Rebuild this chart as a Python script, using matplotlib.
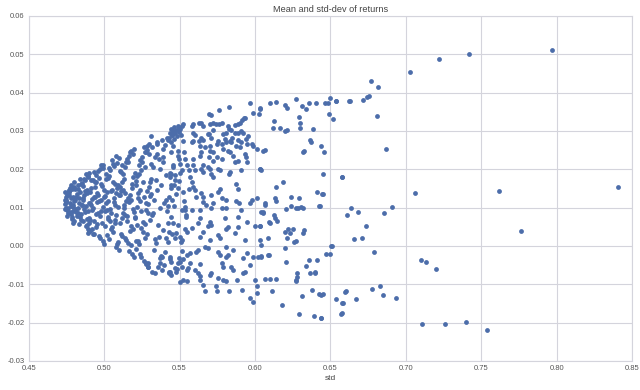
import matplotlib
matplotlib.use("Agg")
import matplotlib.pyplot as plt
import numpy as np

plt.rcParams['font.family'] = ['Liberation Sans', 'DejaVu Sans']

title = "Mean and std-dev of returns"
xlabel = "std"
xticks = [0.45, 0.50, 0.55, 0.60, 0.65, 0.70, 0.75, 0.80, 0.85]
yticks = [-0.03, -0.02, -0.01, 0.00, 0.01, 0.02, 0.03, 0.04, 0.05, 0.06]

# (std, mean) pairs
left_edge = [
    (0.4771,0.0112),(0.4744,0.0098),(0.4790,0.0127),(0.4762,0.0085),(0.4739,0.0140),(0.4783,0.0105),
    (0.4748,0.0119),(0.4795,0.0091),(0.4766,0.0133),(0.4787,0.0148),(0.4752,0.0079),(0.4737,0.0110),
    (0.4779,0.0124),(0.4742,0.0097),(0.4798,0.0155),(0.4758,0.0137),(0.4785,0.0071),(0.4750,0.0116),
    (0.4774,0.0088),(0.4769,0.0146),(0.4792,0.0102),(0.4745,0.0129),(0.4781,0.0160),(0.4799,0.0066),
    (0.4756,0.0094),(0.4740,0.0121),(0.4764,0.0140),(0.4777,0.0083),(0.4794,0.0108),(0.4797,0.0167),
    (0.4753,0.0132),(0.4789,0.0075),(0.4776,0.0152),(0.4760,0.0100),(0.4746,0.0117),(0.4793,0.0061),
    (0.4768,0.0143),
    (0.4857,0.0126),(0.4812,0.0089),(0.4873,0.0171),(0.4831,0.0058),(0.4896,0.0113),(0.4805,0.0149),
    (0.4868,0.0097),(0.4821,0.0135),(0.4884,0.0070),(0.4890,0.0182),(0.4808,0.0120),(0.4849,0.0083),
    (0.4826,0.0158),(0.4878,0.0105),(0.4842,0.0141),(0.4861,0.0064),(0.4838,0.0174),(0.4893,0.0092),
    (0.4815,0.0128),(0.4834,0.0111),(0.4876,0.0053),(0.4853,0.0165),(0.4818,0.0079),(0.4887,0.0145),
    (0.4881,0.0187),(0.4829,0.0100),(0.4866,0.0134),(0.4845,0.0067),(0.4803,0.0118),(0.4859,0.0156),
    (0.4892,0.0044),(0.4871,0.0088),(0.4864,0.0176),(0.4836,0.0125),(0.4899,0.0060),(0.4823,0.0148),
    (0.4855,0.0107),(0.4897,0.0191),(0.4840,0.0075),(0.4883,0.0138),(0.4898,0.0040),(0.4847,0.0163),
    (0.4811,0.0096),(0.4862,0.0119),(0.4888,0.0055),(0.4894,0.0181),(0.4827,0.0085),(0.4870,0.0143),
    (0.4895,0.0035),(0.4851,0.0106),
]

left_mid = [
    (0.4934,0.0128),(0.4961,0.0196),(0.4909,0.0068),(0.4987,0.0157),(0.4928,0.0031),(0.4952,0.0114),
    (0.4915,0.0173),(0.4978,0.0090),(0.4903,0.0140),(0.4943,0.0049),(0.4995,0.0203),(0.4922,0.0122),
    (0.4969,0.0077),(0.4939,0.0166),(0.4991,0.0101),(0.4973,0.0022),(0.4911,0.0150),(0.4948,0.0185),
    (0.4984,0.0061),(0.4957,0.0132),(0.4919,0.0093),(0.4980,0.0210),(0.4906,0.0039),(0.4965,0.0117),
    (0.4926,0.0171),(0.4945,0.0083),(0.4998,0.0146),(0.4989,0.0014),(0.4931,0.0194),(0.4913,0.0108),
    (0.4955,0.0057),(0.4976,0.0161),(0.4937,0.0129),(0.4963,0.0026),(0.4993,0.0212),(0.4901,0.0072),
    (0.4950,0.0137),(0.4924,0.0098),(0.4967,0.0178),(0.4917,0.0045),(0.4982,0.0120),(0.4996,0.0006),
    (0.4941,0.0153),(0.4959,0.0087),(0.4972,0.0201),(0.4930,0.0064),(0.4907,0.0111),(0.4946,0.0168),
    (0.4935,0.0032),
    (0.5047,0.0143),(0.5016,0.0095),(0.5083,0.0217),(0.5005,0.0051),(0.5062,0.0125),(0.5031,0.0183),
    (0.5091,0.0010),(0.5024,0.0076),(0.5074,0.0161),(0.5009,0.0112),(0.5056,0.0036),(0.5040,0.0199),
    (0.5097,0.0134),(0.5069,0.0068),(0.5052,0.0224),(0.5003,0.0090),(0.5087,0.0152),(0.5078,-0.0003),
    (0.5028,0.0118),(0.5013,0.0175),(0.5044,0.0044),(0.5093,0.0103),(0.5066,0.0209),(0.5020,0.0140),
    (0.5035,0.0018),(0.5080,0.0081),(0.5058,0.0166),(0.5001,0.0127),(0.5072,0.0059),(0.5098,0.0230),
    (0.5038,0.0097),(0.5011,0.0188),(0.5085,0.0004),(0.5049,0.0146),(0.5027,0.0070),(0.5064,0.0115),
    (0.5033,0.0203),(0.5018,0.0028),(0.5089,0.0158),(0.5043,0.0086),(0.5076,0.0235),(0.5007,0.0131),
    (0.5095,-0.0010),(0.5054,0.0050),(0.5022,0.0177),(0.5070,0.0108),(0.5060,0.0214),(0.5036,0.0064),
    (0.5081,0.0139),
]

left_right = [
    (0.5138,0.0021),(0.5112,0.0192),(0.5181,0.0121),(0.5153,0.0079),(0.5194,0.0241),(0.5104,0.0155),
    (0.5167,-0.0012),(0.5129,0.0100),(0.5188,0.0044),(0.5146,0.0220),(0.5119,0.0168),(0.5172,0.0132),
    (0.5102,0.0061),(0.5159,0.0008),(0.5135,0.0205),(0.5197,0.0089),(0.5126,0.0147),(0.5177,0.0248),
    (0.5109,0.0030),(0.5163,0.0114),(0.5191,0.0181),(0.5184,-0.0021),(0.5117,0.0072),(0.5150,0.0227),
    (0.5141,0.0139),(0.5175,0.0053),(0.5107,0.0196),(0.5132,0.0106),(0.5144,0.0015),(0.5186,0.0161),
    (0.5199,0.0252),(0.5123,0.0085),(0.5157,0.0124),(0.5195,-0.0030),(0.5115,0.0211),(0.5170,0.0039),
    (0.5134,0.0174),(0.5190,0.0096),(0.5111,0.0143),(0.5148,0.0066),(0.5165,0.0236),(0.5179,0.0003),
    (0.5127,0.0187),(0.5142,0.0117),(0.5183,0.0152),(0.5120,0.0025),(0.5161,0.0218),(0.5136,0.0081),
    (0.5174,0.0246),(0.5106,0.0134),
    (0.5247,-0.0028),(0.5208,0.0170),(0.5271,0.0058),(0.5235,0.0224),(0.5289,0.0110),(0.5262,0.0257),
    (0.5214,0.0014),(0.5281,0.0143),(0.5243,0.0198),(0.5203,0.0075),(0.5266,-0.0040),(0.5227,0.0125),
    (0.5295,0.0240),(0.5255,0.0036),(0.5219,0.0182),(0.5276,0.0093),(0.5232,0.0212),(0.5298,0.0154),
    (0.5211,-0.0008),(0.5259,0.0063),(0.5284,0.0262),(0.5238,0.0118),(0.5268,0.0021),(0.5205,0.0190),
    (0.5292,0.0086),(0.5250,0.0231),(0.5279,-0.0046),(0.5224,0.0137),(0.5241,0.0047),(0.5273,0.0205),
    (0.5216,0.0101),(0.5257,0.0166),(0.5230,0.0004),(0.5287,0.0250),(0.5201,0.0072),(0.5264,0.0129),
    (0.5236,-0.0022),(0.5253,0.0218),(0.5209,0.0160),(0.5283,0.0030),(0.5245,0.0092),(0.5269,0.0244),
    (0.5293,-0.0045),(0.5228,0.0188),(0.5274,0.0112),(0.5218,0.0055),(0.5299,0.0266),(0.5240,0.0146),
    (0.5290,-0.0054),(0.5222,0.0013),
]

center = [
    (0.5371,0.0200),(0.5318,0.0080),(0.5433,0.0127),(0.5352,0.0239),(0.5402,-0.0015),(0.5306,0.0166),
    (0.5389,0.0041),(0.5347,0.0270),(0.5424,0.0104),(0.5313,0.0213),(0.5381,-0.0062),(0.5446,0.0150),
    (0.5335,0.0018),(0.5410,0.0185),(0.5301,0.0067),(0.5392,0.0252),(0.5327,0.0119),(0.5439,-0.0035),
    (0.5363,0.0226),(0.5417,0.0090),(0.5342,0.0172),(0.5448,0.0030),(0.5385,0.0277),(0.5309,0.0136),
    (0.5428,-0.0068),(0.5357,0.0054),(0.5321,0.0205),(0.5398,0.0112),(0.5441,0.0245),(0.5330,-0.0010),
    (0.5376,0.0158),(0.5444,0.0076),(0.5415,0.0283),(0.5361,0.0024),(0.5437,0.0191),(0.5304,0.0130),
    (0.5395,-0.0050),(0.5339,0.0233),(0.5367,0.0098),(0.5421,0.0061),(0.5311,0.0176),(0.5406,0.0264),
    (0.5378,-0.0025),(0.5350,0.0145),(0.5430,0.0037),(0.5387,0.0218),(0.5324,0.0087),(0.5449,0.0290),
    (0.5413,0.0121),(0.5345,0.0008),
    (0.5498,0.0170),(0.5461,0.0105),(0.5533,0.0045),(0.5479,0.0135),(0.5516,-0.0012),(0.5454,0.0212),
    (0.5541,0.0080),(0.5488,0.0152),(0.5469,0.0022),(0.5526,0.0118),(0.5503,0.0190),(0.5457,0.0060),
    (0.5537,0.0095),(0.5484,-0.0060),(0.5520,0.0140),(0.5475,0.0035),(0.5494,0.0228),(0.5543,0.0075),
    (0.5466,0.0160),(0.5510,0.0010),(0.5452,0.0120),(0.5529,0.0245),(0.5491,0.0055),(0.5522,-0.0035),
    (0.5472,0.0185),
    (0.5430,0.0283),(0.5438,0.0296),(0.5445,0.0305),(0.5450,0.0289),(0.5455,0.0300),(0.5460,0.0280),
    (0.5465,0.0310),(0.5470,0.0294),(0.5476,0.0302),(0.5482,0.0286),(0.5488,0.0313),(0.5494,0.0298),
    (0.5500,0.0306),(0.5507,0.0290),(0.5440,0.0272),(0.5425,0.0276),
    (0.531,0.0288),(0.535,0.0267),(0.532,0.0257),(0.528,0.0244),(0.539,0.0231),
]

middle_upper = [
    (0.5966,0.0374),(0.576,0.0355),(0.583,0.0363),(0.6036,0.0359),(0.6027,0.0344),(0.5987,0.0348),
    (0.5696,0.0344),(0.5707,0.0342),(0.5917,0.0328),(0.5937,0.0333),(0.590,0.0322),(0.5866,0.0316),
    (0.5822,0.0313),(0.5784,0.032),(0.5762,0.0319),(0.574,0.0318),(0.5722,0.032),(0.570,0.0319),
    (0.5645,0.032),(0.5652,0.0312),(0.5579,0.0313),(0.5589,0.0318),(0.5523,0.0318),(0.5513,0.0312),
    (0.5497,0.0309),(0.5722,0.0302),(0.5788,0.0292),(0.5811,0.0296),(0.5844,0.0302),(0.5888,0.0296),
    (0.591,0.030),(0.5921,0.0294),(0.5954,0.0288),(0.5977,0.0266),(0.5939,0.028),(0.5696,0.0292),
    (0.5711,0.0283),(0.559,0.0294),(0.560,0.029),(0.5645,0.0283),(0.5755,0.0275),(0.580,0.0279),
    (0.5833,0.0275),(0.5844,0.027),(0.591,0.027),(0.5877,0.0262),(0.5745,0.0266),(0.5778,0.0266),
    (0.570,0.0262),(0.5634,0.0262),(0.5667,0.0257),(0.5579,0.027),(0.559,0.0275),(0.5523,0.0275),
    (0.5457,0.0262),(0.549,0.0249),(0.5645,0.0244),(0.570,0.0249),(0.5722,0.0244),(0.5822,0.0249),
    (0.5833,0.0244),(0.5788,0.0253),(0.590,0.0257),(0.5944,0.0266),(0.601,0.0253),(0.6054,0.0249),
    (0.5932,0.024),(0.5888,0.0223),(0.5855,0.0236),(0.5784,0.0227),(0.5745,0.0231),(0.5696,0.0231),
    (0.5634,0.0236),(0.559,0.0227),(0.5534,0.0227),(0.549,0.0236),(0.5944,0.0218),(0.6032,0.0201),
    (0.6043,0.0197),(0.5833,0.0193),(0.591,0.0197),(0.5755,0.0201),(0.5767,0.0197),(0.570,0.0201),
    (0.5711,0.0188),(0.5645,0.0201),(0.5656,0.0193),(0.559,0.021),(0.560,0.0199),(0.5546,0.021),
    (0.5563,0.0197),(0.5501,0.0214),(0.5513,0.0197),(0.5457,0.0205),(0.5446,0.0188),
    (0.5627,0.0273),(0.5654,0.0277),(0.569,0.0293),(0.5846,0.0281),(0.5886,0.0277),(0.5806,0.027),
    (0.594,0.0231),(0.5866,0.0218),(0.572,0.0223),(0.5687,0.0205),(0.583,0.0189),(0.5654,0.021),
    (0.599,0.0262),(0.593,0.0334),(0.589,0.0318),(0.587,0.0296),(0.583,0.0305),(0.563,0.0322),
]

middle_mid = [
    (0.5435,0.018),(0.5468,0.0171),(0.5446,0.0158),(0.5568,0.018),(0.5579,0.0167),(0.559,0.0154),
    (0.5563,0.0149),(0.560,0.0145),(0.5722,0.018),(0.5767,0.0149),(0.5755,0.0142),(0.5877,0.0162),
    (0.5888,0.0149),(0.5645,0.0137),(0.5612,0.0128),(0.5656,0.0128),(0.5711,0.0134),(0.5778,0.0124),
    (0.5811,0.0119),(0.5877,0.0117),(0.5895,0.0111),(0.5977,0.0119),(0.601,0.0124),(0.5966,0.0111),
    (0.5656,0.0115),(0.5678,0.0108),(0.5722,0.0111),(0.5778,0.010),(0.5811,0.010),(0.5711,0.010),
    (0.591,0.0093),(0.6065,0.0111),(0.6043,0.0089),(0.5634,0.0093),(0.5579,0.0093),(0.5534,0.0102),
    (0.5513,0.0093),(0.5634,0.0073),(0.580,0.0072),(0.5888,0.0076),(0.570,0.0063),(0.5711,0.0054),
    (0.5689,0.0053),(0.5623,0.0059),(0.5944,0.0063),(0.5999,0.0053),(0.6032,0.0053),(0.5822,0.005),
    (0.5811,0.0044),(0.5888,0.005),(0.5866,0.0033),(0.5579,0.0046),(0.5546,0.0037),(0.5656,0.0037),
    (0.5634,0.0024),(0.5755,0.0028),(0.5767,0.002),(0.5501,0.0024),(0.5513,0.0016),(0.570,0.0016),
    (0.5932,0.0016),(0.6032,0.0016),(0.5413,0.002),(0.5424,0.0011),
]

middle_low = [
    (0.528,-0.0045),(0.5291,-0.0054),(0.5314,-0.0067),(0.5336,-0.0071),(0.5357,-0.0054),(0.5369,-0.0045),
    (0.538,-0.0028),(0.5369,-0.0032),(0.5435,-0.0028),(0.5446,-0.0041),(0.5435,-0.0067),(0.5446,-0.0075),
    (0.543,-0.0071),(0.5468,-0.0058),(0.5479,-0.0067),(0.5497,-0.0032),(0.5501,-0.0041),(0.549,-0.0045),
    (0.5501,-0.0095),(0.5523,-0.0088),(0.555,-0.0092),(0.5513,-0.0054),(0.5546,-0.0062),(0.5556,-0.0058),
    (0.5568,-0.0019),(0.555,-0.0023),(0.5568,-0.0045),(0.560,-0.0062),(0.5623,-0.0071),(0.5634,-0.0078),
    (0.5612,-0.0015),(0.5623,-0.001),(0.5634,-0.0047),(0.5634,-0.0088),(0.5667,-0.0118),(0.5656,-0.0101),
    (0.5667,-0.0002),(0.5689,-0.0006),(0.570,-0.0075),(0.5711,-0.0071),(0.574,-0.0105),(0.5745,-0.0118),
    (0.5755,-0.0015),(0.5767,-0.0023),(0.5755,-0.0084),(0.5778,-0.0045),(0.5789,-0.0054),(0.5789,-0.0088),
    (0.5806,-0.0092),(0.5811,-0.0028),(0.5822,-0.0023),(0.5811,-0.0002),(0.5828,-0.0118),(0.5844,-0.0054),
    (0.5855,-0.0062),(0.5855,-0.001),(0.5881,-0.0088),(0.5917,-0.0114),(0.5921,-0.0071),(0.5932,-0.0067),
    (0.5921,-0.0032),(0.5944,-0.0019),(0.5966,-0.0049),(0.5999,-0.0088),(0.601,-0.0105),(0.601,-0.0123),
    (0.5966,-0.0136),(0.5988,-0.0147),(0.5988,-0.0028),(0.6021,-0.0028),(0.6043,-0.0026),(0.6043,0.0003),
    (0.6087,-0.0023),
]

right_side = [
    (0.6098,0.0373),(0.6142,0.0376),(0.620,0.0368),(0.621,0.0361),(0.6275,0.0383),(0.631,0.0365),
    (0.634,0.0357),(0.636,0.0374),(0.6403,0.0374),(0.6467,0.0374),(0.6485,0.0374),(0.650,0.0387),
    (0.6536,0.0378),(0.649,0.0344),(0.652,0.0331),(0.6624,0.0378),(0.603,0.0357),(0.6127,0.0326),
    (0.612,0.0307),(0.6165,0.0309),(0.620,0.0299),(0.6215,0.0303),(0.629,0.0337),(0.6297,0.032),
    (0.6297,0.0309),(0.6385,0.0306),(0.6363,0.0276),(0.637,0.0272),(0.644,0.0262),(0.6456,0.0246),
    (0.6315,0.0246),(0.6326,0.0249),(0.6065,0.0251),(0.603,0.0201),(0.6452,0.0188),(0.6574,0.0181),
    (0.6186,0.0167),(0.6142,0.0154),(0.6408,0.0142),(0.6445,0.0135),(0.6237,0.0128),(0.6292,0.0125),
    (0.6131,0.0124),(0.6065,0.0108),(0.605,0.0087),(0.6204,0.0096),(0.6242,0.0104),(0.6275,0.0099),
    (0.6282,0.0098),(0.6308,0.0102),(0.632,0.0098),(0.6425,0.0104),(0.6607,0.0080),(0.6125,0.008),
    (0.6131,0.0072),(0.6147,0.0065),(0.6098,0.0061),(0.6032,0.0053),(0.622,0.0044),(0.6253,0.0044),
    (0.6198,0.0037),(0.6231,0.0033),(0.6326,0.0041),(0.6315,0.0035),(0.6209,0.002),(0.6257,0.001),
    (0.6275,0.0013),(0.6087,0.002),(0.6198,-0.0006),(0.6507,0.0),(0.6093,-0.0023),(0.6038,-0.0028),
    (0.6359,-0.0036),(0.6408,-0.0036),(0.6204,-0.0043),(0.6337,-0.0051),(0.6401,-0.0071),(0.628,-0.0071),
    (0.628,-0.008),(0.627,-0.0088),(0.6275,-0.0092),(0.6065,-0.0086),(0.6098,-0.0085),(0.6138,-0.0085),
    (0.6116,-0.0117),(0.6312,-0.0131),(0.6381,-0.0114),(0.6425,-0.0124),(0.6436,-0.0127),(0.6448,-0.0125),
    (0.654,-0.0137),(0.658,-0.0149),(0.6602,-0.0118),(0.6182,-0.0153),(0.6292,-0.0177),(0.6392,-0.0183),
    (0.644,-0.0189),(0.6574,-0.0176),(0.6363,-0.0071),(0.6397,-0.0068),(0.6054,0.0089),(0.6093,0.0063),
    (0.6138,0.0117),(0.6448,0.0136),(0.643,0.0104),
]

far_right = [
    (0.797,0.0512),(0.7416,0.0501),(0.722,0.0489),(0.7025,0.0455),(0.677,0.0430),(0.6817,0.0415),
    (0.6757,0.0391),(0.674,0.0389),(0.6713,0.0381),(0.6627,0.0379),(0.6534,0.0379),(0.681,0.0338),
    (0.6867,0.0254),(0.6576,0.0181),(0.706,0.0138),(0.762,0.0143),(0.8406,0.0155),(0.6635,0.0098),
    (0.6684,0.0089),(0.6856,0.0085),(0.6907,0.0101),(0.6735,0.0052),(0.6655,0.0017),(0.6708,0.0022),
    (0.7765,0.0040),(0.651,-0.0001),(0.6474,-0.0022),(0.6498,-0.0021),(0.679,-0.0016),(0.7104,-0.0037),
    (0.7133,-0.0042),(0.720,-0.0060),(0.6596,-0.0119),(0.6584,-0.0149),(0.6668,-0.0137),(0.6779,-0.0113),
    (0.6828,-0.0105),(0.6848,-0.0128),(0.6934,-0.0135),(0.6571,-0.0178),(0.6438,-0.0189),(0.7108,-0.0204),
    (0.7257,-0.0204),(0.7396,-0.0198),(0.754,-0.0218),
]

groups = [left_edge, left_mid, left_right, center, middle_upper, middle_mid, middle_low, right_side, far_right]
pts = np.array([p for g in groups for p in g])
std_vals = pts[:, 0]
mean_vals = pts[:, 1]

fig = plt.figure(figsize=(6.4, 3.9), dpi=100)
ax = fig.add_axes([0.045, 0.0744, 0.9425, 0.8846])
ax.set_facecolor('white')
ax.scatter(std_vals, mean_vals, s=12, color='#4C6DAA', linewidths=0, zorder=3)

ax.set_xlim(0.45, 0.85)
ax.set_ylim(-0.03, 0.06)
ax.set_xticks(xticks)
ax.set_yticks(yticks)
ax.set_xticklabels([f"{v:.2f}" for v in xticks])
ax.set_yticklabels([f"{v:.2f}" for v in yticks])
ax.grid(True, color='#d4d4dc', linewidth=0.8, zorder=0)
ax.set_axisbelow(True)
for sp in ax.spines.values():
    sp.set_color('#d4d4dc')
    sp.set_linewidth(0.8)
ax.tick_params(length=0, labelsize=5.5, labelcolor='#555555', pad=3)
ax.set_title(title, fontsize=6.6, color='#444444', pad=3)
ax.set_xlabel(xlabel, fontsize=6, color='#444444', labelpad=2)

fig.savefig("out.png", dpi=100, facecolor='white')
